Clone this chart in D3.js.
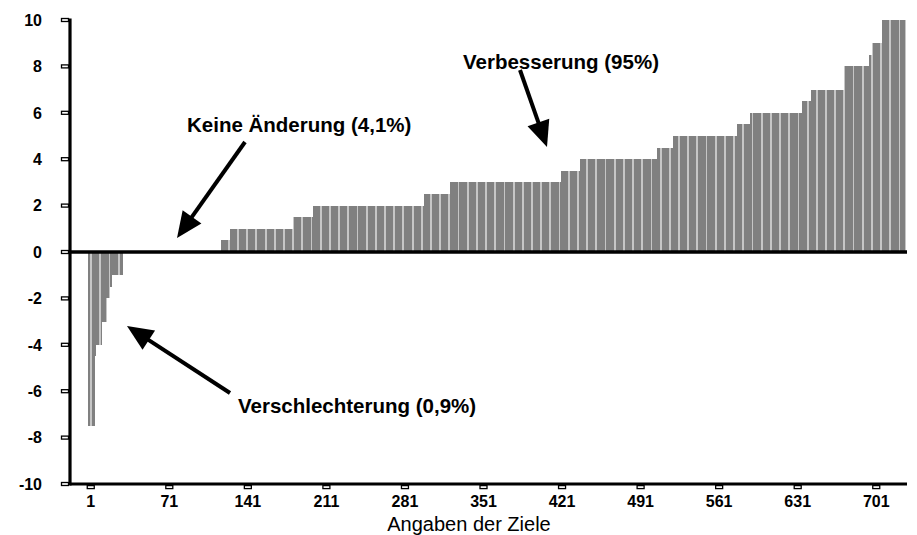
<!DOCTYPE html>
<html>
<head>
<meta charset="utf-8">
<script src="https://cdn.jsdelivr.net/npm/d3@7"></script>
<style>
  body { margin: 0; background: #fff; }
  svg { display: block; font-family: Arial, 'Liberation Sans', sans-serif; }
</style>
</head>
<body>
<div class="chart-container"></div>
<script>
// Werte: jede Stufe (Veränderung) und wie viele Angaben sie hat
const levels = [-7.5, -4.5, -4, -3, -2, -1.5, -1, 0, 0.5, 1, 1.5, 2, 2.5, 3, 3.5, 4, 4.5, 5, 5.5, 6, 6.5, 7, 8, 8.5, 9, 10];
const counts = [6, 1, 5, 4, 3, 2, 10, 87, 8, 56, 18, 99, 23, 99, 17, 69, 14, 57, 12, 46, 8, 29, 23, 2, 9, 21];
// Achsenbeschriftung
const xTicks = [1, 71, 141, 211, 281, 351, 421, 491, 561, 631, 701];
const yTicks = [-10, -8, -6, -4, -2, 0, 2, 4, 6, 8, 10];
const xTitle = 'Angaben der Ziele';

// Pfeile + Texte (nur Layout)
const notes = [
  { text: 'Verbesserung (95%)',      x: 463, y: 69,  from: [520, 70],  to: [547, 147] },
  { text: 'Keine Änderung (4,1%)',   x: 187, y: 132, from: [245, 142], to: [177, 238] },
  { text: 'Verschlechterung (0,9%)', x: 238, y: 413, from: [230, 393], to: [127, 326] }
];

// Stufen -> eine Zeile pro Angabe
const bars = [];
levels.forEach((v, k) => {
  for (let j = 0; j < counts[k]; j++) bars.push({ id: bars.length + 1, value: v });
});

const width = 917, height = 535;
const svg = d3.select('.chart-container').append('svg')
  .attr('width', width).attr('height', height);

const axisX = 70;
const xScale = d3.scaleBand()
  .domain(bars.map(d => d.id))
  .range([88.3, 905])
  .paddingInner(0.2);
const yScale = d3.scaleLinear().domain([-10, 10]).range([484, 20]);

// Balken: heller Untergrund, darauf die grauen Balken -> helle Fugen
const barG = svg.append('g').attr('shape-rendering', 'crispEdges');
barG.selectAll('.under')
  .data(bars.filter(d => d.value !== 0))
  .enter().append('rect')
  .attr('class', 'under')
  .attr('x', d => xScale(d.id))
  .attr('width', xScale.step() + 0.3)
  .attr('y', d => yScale(Math.max(0, d.value)))
  .attr('height', d => Math.abs(yScale(d.value) - yScale(0)))
  .style('fill', '#c6c6c6');
barG.selectAll('.bar')
  .data(bars.filter(d => d.value !== 0))
  .enter().append('rect')
  .attr('class', 'bar')
  .attr('x', d => xScale(d.id))
  .attr('width', xScale.bandwidth())
  .attr('y', d => yScale(Math.max(0, d.value)))
  .attr('height', d => Math.abs(yScale(d.value) - yScale(0)))
  .style('fill', '#808080');

// Achsenlinien
svg.append('line')
  .attr('x1', axisX).attr('x2', 907)
  .attr('y1', yScale(0)).attr('y2', yScale(0))
  .style('stroke', '#000').style('stroke-width', 3.5);
svg.append('line')
  .attr('x1', axisX).attr('x2', 907)
  .attr('y1', yScale(-10)).attr('y2', yScale(-10))
  .style('stroke', '#000').style('stroke-width', 2.8);
svg.append('line')
  .attr('x1', axisX).attr('x2', axisX)
  .attr('y1', yScale(10) - 1.5).attr('y2', yScale(-10) + 1.4)
  .style('stroke', '#000').style('stroke-width', 3.2);

// Y-Ticks
const yt = svg.append('g').attr('class', 'y axis');
yt.selectAll('rect').data(yTicks).enter().append('rect')
  .attr('x', 61.5).attr('y', d => yScale(d) - 1.5)
  .attr('width', 7).attr('height', 3)
  .style('fill', '#fff').style('stroke', '#000').style('stroke-width', 1.3);
yt.selectAll('text').data(yTicks).enter().append('text')
  .attr('x', 42).attr('y', d => yScale(d))
  .attr('dy', '0.36em')
  .style('text-anchor', 'end')
  .style('font-size', '16px').style('font-weight', 'bold')
  .text(d => d);

// X-Ticks
const tickX = d => xScale(d) + xScale.bandwidth() / 2 + 2;
const xt = svg.append('g').attr('class', 'x axis');
xt.selectAll('rect').data(xTicks).enter().append('rect')
  .attr('x', d => tickX(d) - 3.5).attr('y', yScale(-10) + 1.6)
  .attr('width', 7).attr('height', 3)
  .style('fill', '#fff').style('stroke', '#000').style('stroke-width', 1.3);
xt.selectAll('text').data(xTicks).enter().append('text')
  .attr('x', tickX).attr('y', 507)
  .style('text-anchor', 'middle')
  .style('font-size', '16px').style('font-weight', 'bold')
  .text(d => d);

svg.append('text')
  .attr('x', 469).attr('y', 531)
  .style('text-anchor', 'middle')
  .style('font-size', '20px')
  .text(xTitle);

// Pfeile
function arrowHead(from, to, len, half) {
  const dx = to[0] - from[0], dy = to[1] - from[1];
  const l = Math.hypot(dx, dy), ux = dx / l, uy = dy / l;
  const bx = to[0] - ux * len, by = to[1] - uy * len;
  return [to, [bx - uy * half, by + ux * half], [bx + uy * half, by - ux * half]];
}
const ann = svg.append('g').attr('class', 'notes');
notes.forEach(n => {
  const head = arrowHead(n.from, n.to, 26, 11.5);
  const l = Math.hypot(n.to[0] - n.from[0], n.to[1] - n.from[1]);
  const endX = n.to[0] - (n.to[0] - n.from[0]) / l * 20;
  const endY = n.to[1] - (n.to[1] - n.from[1]) / l * 20;
  ann.append('line')
    .attr('x1', n.from[0]).attr('y1', n.from[1])
    .attr('x2', endX).attr('y2', endY)
    .style('stroke', '#000').style('stroke-width', 4);
  ann.append('path')
    .attr('d', d3.line()(head) + 'Z')
    .style('fill', '#000');
  ann.append('text')
    .attr('x', n.x).attr('y', n.y)
    .style('font-size', '20.5px').style('font-weight', 'bold')
    .text(n.text);
});
</script>
</body>
</html>
